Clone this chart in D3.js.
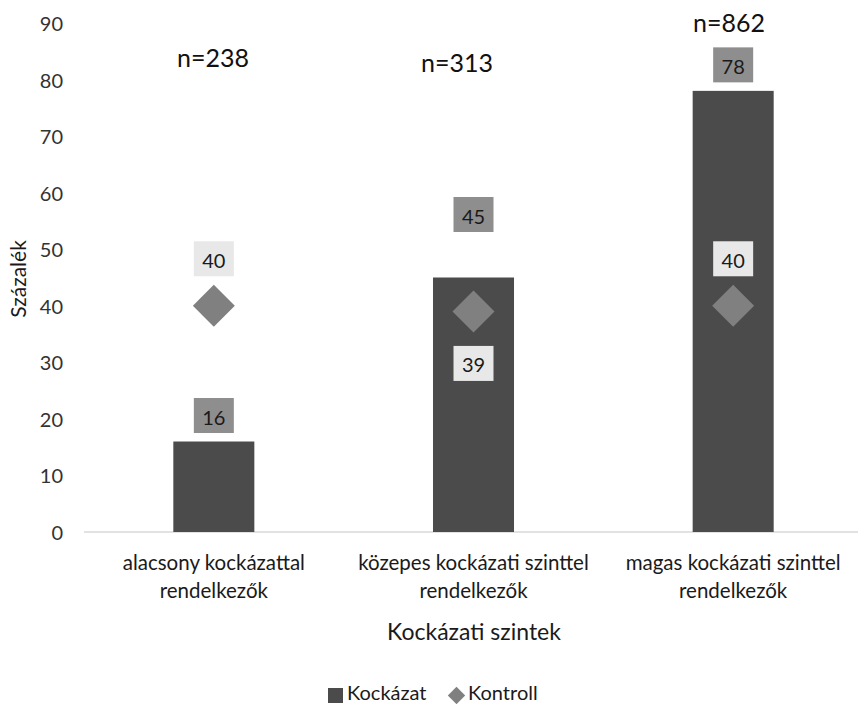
<!DOCTYPE html>
<html>
<head>
<meta charset="utf-8">
<script src="https://cdn.jsdelivr.net/npm/d3@7"></script>
<style>
  html, body { margin: 0; padding: 0; background: #fff; }
  svg { display: block; font-family: Lato, "Open Sans", sans-serif; }
</style>
</head>
<body>
<svg id="chart" width="858" height="704"></svg>
<script>
// Risk levels and their values (percent)
const categories = [
  ["alacsony kockázattal", "rendelkezők"],
  ["közepes kockázati szinttel", "rendelkezők"],
  ["magas kockázati szinttel", "rendelkezők"]
];
const kockazat = [16, 45, 78];
const kontroll = [40, 39, 40];
const sampleSizes = ["n=238", "n=313", "n=862"];
const yTicks = [0, 10, 20, 30, 40, 50, 60, 70, 80, 90];

// Label placement (pixel offsets from the mark, negative = above)
const barLabelOffset = [-26, -63, -26];
const ctrlLabelOffset = [-47, 52, -47];
const nLabelY = [57, 62, 22];
const nLabelX = [213, 457, 729];

const svg = d3.select("#chart");
const W = 858, H = 704;

const x = d3.scaleBand()
  .domain(d3.range(categories.length))
  .range([84, 863])
  .paddingInner(0.688)
  .paddingOuter(0.344);
const y = d3.scaleLinear().domain([0, 90]).range([532, 23]);

const cx = i => x(i) + x.bandwidth() / 2;

// y tick labels
svg.append("g").selectAll("text")
  .data(yTicks).join("text")
  .attr("x", 63).attr("y", d => y(d))
  .attr("text-anchor", "end").attr("dominant-baseline", "central")
  .attr("font-size", 20).attr("fill", "#333")
  .text(d => d);

// baseline
svg.append("line")
  .attr("x1", 84).attr("x2", W)
  .attr("y1", y(0)).attr("y2", y(0))
  .attr("stroke", "#d9d9d9").attr("stroke-width", 1.5);

// bars
svg.append("g").selectAll("rect")
  .data(kockazat).join("rect")
  .attr("x", (d, i) => x(i)).attr("width", x.bandwidth())
  .attr("y", d => y(d)).attr("height", d => y(0) - y(d))
  .attr("fill", "#4b4b4b");

// control diamonds
svg.append("g").selectAll("path")
  .data(kontroll).join("path")
  .attr("d", d3.symbol(d3.symbolSquare, 880))
  .attr("transform", (d, i) => `translate(${cx(i)},${y(d)}) rotate(45)`)
  .attr("fill", "#808080");

// value label boxes
function valueLabel(g, px, py, text, fill) {
  g.append("rect")
    .attr("x", px - 20).attr("y", py - 17.5)
    .attr("width", 40).attr("height", 35)
    .attr("fill", fill);
  g.append("text")
    .attr("x", px).attr("y", py + 1)
    .attr("text-anchor", "middle").attr("dominant-baseline", "central")
    .attr("font-size", 20).attr("fill", "#1a1a1a")
    .text(text);
}
const labels = svg.append("g");
kockazat.forEach((v, i) => valueLabel(labels, cx(i), y(v) + barLabelOffset[i], v, "#8e8e8e"));
kontroll.forEach((v, i) => valueLabel(labels, cx(i), y(v) + ctrlLabelOffset[i], v, "#e8e8e8"));

// sample sizes
svg.append("g").selectAll("text")
  .data(sampleSizes).join("text")
  .attr("x", (d, i) => nLabelX[i]).attr("y", (d, i) => nLabelY[i])
  .attr("text-anchor", "middle").attr("dominant-baseline", "central")
  .attr("font-size", 25).attr("fill", "#111")
  .text(d => d);

// category labels
const cat = svg.append("g").selectAll("text")
  .data(categories).join("text")
  .attr("text-anchor", "middle")
  .attr("font-size", 20.5).attr("fill", "#1a1a1a");
cat.each(function (lines, i) {
  d3.select(this).selectAll("tspan").data(lines).join("tspan")
    .attr("x", cx(i))
    .attr("y", (d, j) => 562 + j * 28)
    .attr("dominant-baseline", "central")
    .text(d => d);
});

// axis titles
svg.append("text")
  .attr("x", 474).attr("y", 631)
  .attr("text-anchor", "middle").attr("dominant-baseline", "central")
  .attr("font-size", 23).attr("fill", "#1a1a1a")
  .text("Kockázati szintek");
svg.append("text")
  .attr("transform", "translate(17,279) rotate(-90)")
  .attr("text-anchor", "middle").attr("dominant-baseline", "central")
  .attr("font-size", 21).attr("fill", "#1a1a1a")
  .text("Százalék");

// legend
const legend = svg.append("g");
legend.append("rect")
  .attr("x", 328).attr("y", 688).attr("width", 15).attr("height", 15)
  .attr("fill", "#4b4b4b");
legend.append("text")
  .attr("x", 347).attr("y", 700)
  .attr("font-size", 20).attr("fill", "#1a1a1a").text("Kockázat");
legend.append("path")
  .attr("d", d3.symbol(d3.symbolSquare, 150))
  .attr("transform", "translate(456.5,695.5) rotate(45)")
  .attr("fill", "#808080");
legend.append("text")
  .attr("x", 468).attr("y", 700)
  .attr("font-size", 20).attr("fill", "#1a1a1a").text("Kontroll");
</script>
</body>
</html>
